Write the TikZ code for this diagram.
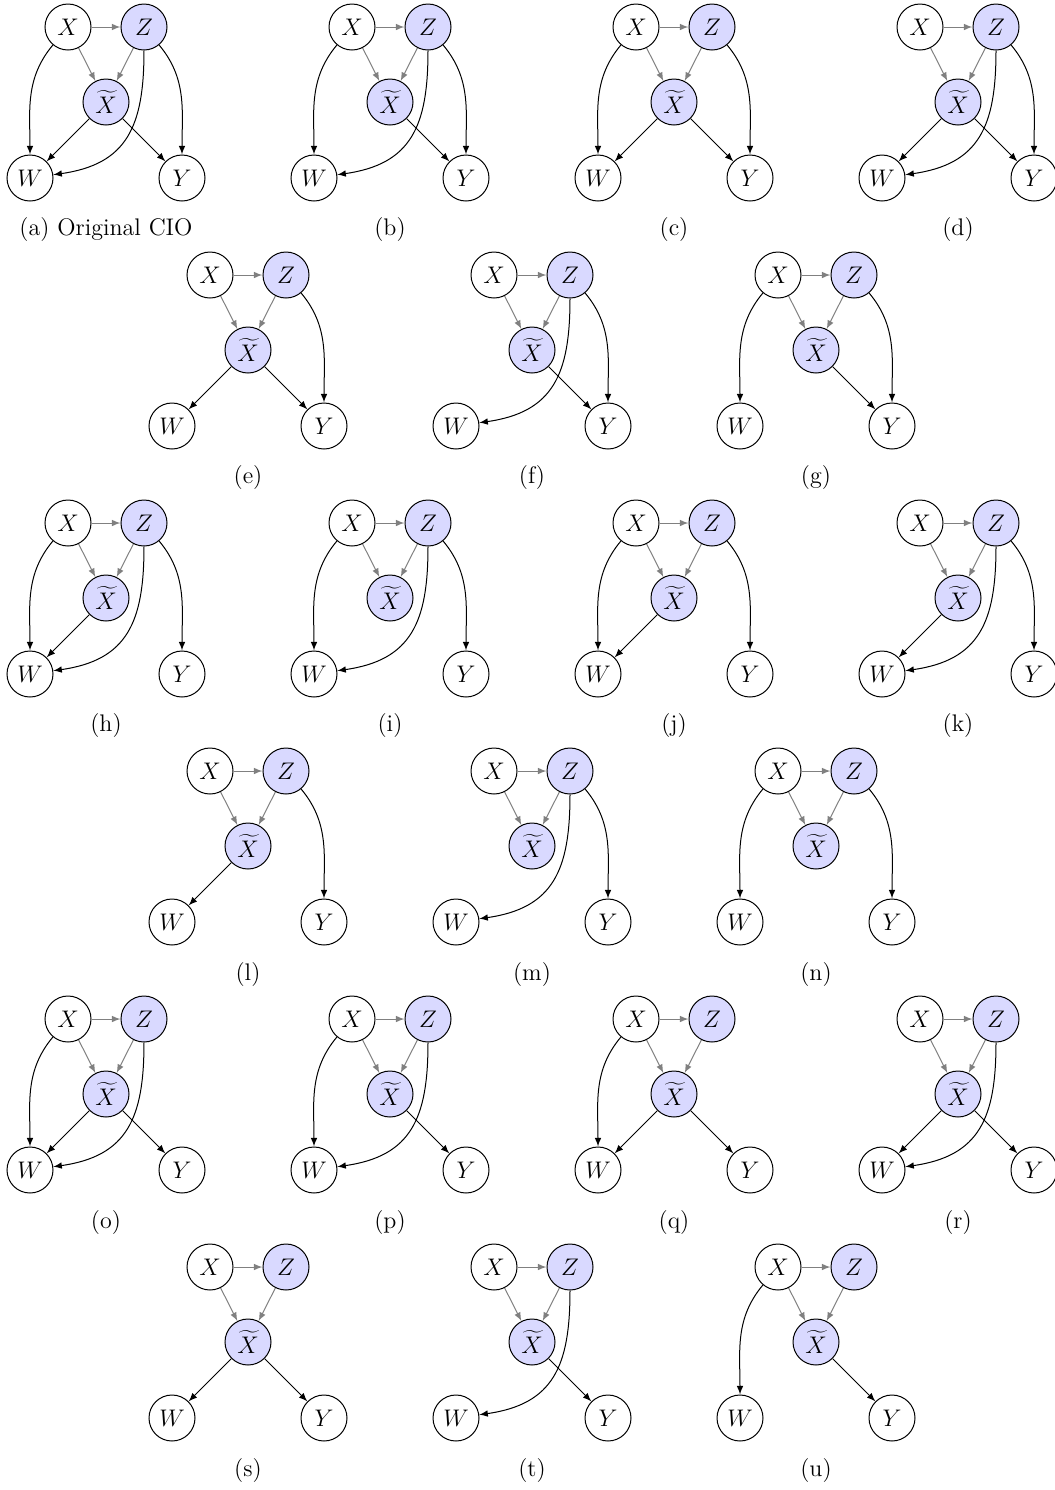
\documentclass[tikz,border=0pt]{standalone}
\usepackage{tikz}
\usetikzlibrary{arrows}
\tikzset{x=0.5pt, y=0.5pt, >=latex,
var/.style={ % observed variables
circle, draw, line width=0.5pt,
minimum size=23pt, inner sep=0pt,
font=\large, fill=white},
latent/.style={var, fill=blue!15}, % Z and the copy of X
given/.style={->, draw=gray, line width=0.5pt}, % fixed part of the CIO
link/.style={->, line width=0.5pt}, % optional edges
caption/.style={font=\large},
XW/.style={out=-130, in=90},
ZY/.style={out=-50, in=90},
ZW/.style={out=-90, in=8, looseness=1.25},
XtW/.style={},
XtY/.style={}}
% #1 name, #2 #3 shift, #4 caption, #5 optional edges
\newcommand{\ciograph}[5]{%
\begin{scope}[shift={(#2,#3)}]
\node[var] (#1X) at (68,-27) {$X$};
\node[latent] (#1Z) at (144,-27) {$Z$};
\node[latent] (#1Xt) at (106,-102) {$\widetilde{X}$};
\node[var] (#1W) at (30,-178) {$W$};
\node[var] (#1Y) at (182,-178) {$Y$};
\draw[given] (#1X) -- (#1Z);
\draw[given] (#1X) -- (#1Xt);
\draw[given] (#1Z) -- (#1Xt);
\foreach \src/\dst in {#5}{
\edef\ciolink{\noexpand\draw[link] (#1\src) to[\src\dst] (#1\dst);}
\ciolink}
\node[caption] (#1cap) at (106,-230) {#4};
\end{scope}}

\begin{document}
\begin{tikzpicture}
\useasboundingbox (0,0) rectangle (1055,-1490);
\ciograph{a}{0}{0}{(a) Original CIO}{X/W,Xt/W,Z/W,Xt/Y,Z/Y}
\ciograph{b}{284}{0}{(b)}{X/W,Z/W,Xt/Y,Z/Y}
\ciograph{c}{568}{0}{(c)}{X/W,Xt/W,Xt/Y,Z/Y}
\ciograph{d}{852}{0}{(d)}{Xt/W,Z/W,Xt/Y,Z/Y}
\ciograph{e}{142}{-248}{(e)}{Xt/W,Xt/Y,Z/Y}
\ciograph{f}{426}{-248}{(f)}{Z/W,Xt/Y,Z/Y}
\ciograph{g}{710}{-248}{(g)}{X/W,Xt/Y,Z/Y}
\ciograph{h}{0}{-496}{(h)}{X/W,Xt/W,Z/W,Z/Y}
\ciograph{i}{284}{-496}{(i)}{X/W,Z/W,Z/Y}
\ciograph{j}{568}{-496}{(j)}{X/W,Xt/W,Z/Y}
\ciograph{k}{852}{-496}{(k)}{Xt/W,Z/W,Z/Y}
\ciograph{l}{142}{-744}{(l)}{Xt/W,Z/Y}
\ciograph{m}{426}{-744}{(m)}{Z/W,Z/Y}
\ciograph{n}{710}{-744}{(n)}{X/W,Z/Y}
\ciograph{o}{0}{-992}{(o)}{X/W,Xt/W,Z/W,Xt/Y}
\ciograph{p}{284}{-992}{(p)}{X/W,Z/W,Xt/Y}
\ciograph{q}{568}{-992}{(q)}{X/W,Xt/W,Xt/Y}
\ciograph{r}{852}{-992}{(r)}{Xt/W,Z/W,Xt/Y}
\ciograph{s}{142}{-1240}{(s)}{Xt/W,Xt/Y}
\ciograph{t}{426}{-1240}{(t)}{Z/W,Xt/Y}
\ciograph{u}{710}{-1240}{(u)}{X/W,Xt/Y}
\end{tikzpicture}
\end{document}
